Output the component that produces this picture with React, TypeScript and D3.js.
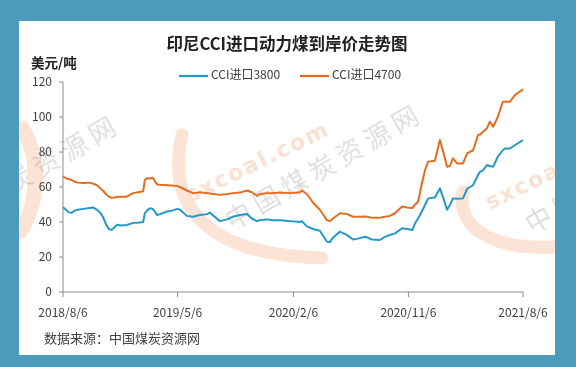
import React from 'react';
import * as d3 from 'd3';

const dates = [
  '2018-08-06', '2018-08-13', '2018-08-20', '2018-08-27', '2018-09-03', '2018-09-10', '2018-09-24',
  '2018-10-08', '2018-10-16', '2018-10-26', '2018-11-02', '2018-11-09', '2018-11-16', '2018-11-23',
  '2018-11-30', '2018-12-07', '2018-12-13', '2018-12-20', '2019-01-05', '2019-01-20', '2019-02-01',
  '2019-02-13', '2019-02-17', '2019-02-22', '2019-03-01', '2019-03-08', '2019-03-18', '2019-03-25',
  '2019-04-11', '2019-04-23', '2019-05-05', '2019-05-12', '2019-05-28', '2019-06-12', '2019-06-28',
  '2019-07-15', '2019-07-22', '2019-08-15', '2019-09-01', '2019-09-15', '2019-10-02', '2019-10-18',
  '2019-10-30', '2019-11-11', '2019-11-18', '2019-12-05', '2019-12-19', '2020-01-05', '2020-01-29',
  '2020-02-22', '2020-02-26', '2020-03-09', '2020-03-24', '2020-04-09', '2020-04-26', '2020-05-03',
  '2020-05-10', '2020-05-27', '2020-06-13', '2020-06-27', '2020-07-09', '2020-07-26', '2020-08-11',
  '2020-08-30', '2020-09-11', '2020-09-23', '2020-10-05', '2020-10-22', '2020-11-03', '2020-11-15',
  '2020-11-22', '2020-11-29', '2020-12-08', '2020-12-16', '2020-12-23', '2021-01-08', '2021-01-20',
  '2021-01-27', '2021-02-06', '2021-02-13', '2021-02-20', '2021-03-02', '2021-03-16', '2021-03-26',
  '2021-04-09', '2021-04-21', '2021-04-26', '2021-05-03', '2021-05-12', '2021-05-19', '2021-05-27',
  '2021-06-07', '2021-06-19', '2021-06-24', '2021-07-06', '2021-07-18', '2021-08-06',
];

const cci3800 = [
  48.5, 47, 45.5, 45.3, 46.5, 47, 47.5,
  48, 48.3, 47, 45.5, 43, 39, 36,
  35.5, 37, 38.5, 38, 38.3, 39.5, 39.6,
  40, 45, 46.5, 47.8, 47.5, 44, 44.5,
  46, 46.5, 47.5, 47, 43.5, 43, 44,
  44.5, 45.3, 40.5, 41.5, 43, 44, 44.6,
  42, 40.5, 41, 41.5, 41, 41, 40.5,
  40, 40.5, 37.5, 36, 35, 28.7, 28.5,
  31, 34.5, 32.5, 30, 30.5, 31.6, 30,
  29.7, 31.5, 32.6, 33.5, 36.4, 36, 35.4,
  39.4, 42, 46, 50, 53.5, 54, 59.2,
  54.5, 47, 49.7, 53.5, 53.3, 53.5, 59,
  61, 67, 68.8, 69.5, 72.6, 72, 71.6,
  77.3, 81, 82, 82, 84, 86.8,
];

const cci4700 = [
  66, 65, 64.5, 64, 63, 62.5, 62.3,
  62.5, 62, 61, 59.5, 58, 56, 54.5,
  53.8, 54, 54.5, 54.5, 54.5, 56.5, 57,
  57.5, 64, 65, 64.8, 65.3, 61.5, 61.3,
  61, 60.8, 60.5, 60, 58, 56.5, 57,
  56.5, 56.3, 55.5, 56, 56.5, 56.8, 58,
  57, 55, 56, 56.5, 56.5, 56.8, 56.5,
  57, 58, 56, 51, 47, 41, 40.5,
  42, 45, 44.5, 43, 43, 43.2, 42.5,
  42.5, 43, 43.5, 45, 48.8, 48.3, 48,
  50, 51.6, 62, 70, 74.5, 75, 86.8,
  81, 71.6, 72, 76.4, 73.5, 73.5, 79.2,
  81, 89.7, 90, 91.6, 93.5, 97.3, 94.5,
  100, 108.7, 108.7, 108.7, 112.6, 115.8,
];

const seriesNames = ['CCI进口3800', 'CCI进口4700'];
const seriesColors = ['#2399c6', '#e46c1f'];
const yTicks = [0, 20, 40, 60, 80, 100, 120];
const xTickLabels = ['2018/8/6', '2019/5/6', '2020/2/6', '2020/11/6', '2021/8/6'];

const W = 576;
const H = 367;
const FONT = '"Noto Sans CJK SC", "Noto Sans", sans-serif';

const parse = d3.timeParse('%Y-%m-%d');
const parseTick = d3.timeParse('%Y/%m/%d');

export default function App() {
  const margin = { left: 63, right: 53, top: 82, bottom: 75 };
  const x = d3
    .scaleTime()
    .domain([parse('2018-08-06') as Date, parse('2021-08-06') as Date])
    .range([margin.left, W - margin.right]);
  const y = d3.scaleLinear().domain([0, 120]).range([H - margin.bottom, margin.top]);

  const series = [cci3800, cci4700];
  const line = d3
    .line<number>()
    .x((_, i) => x(parse(dates[i]) as Date))
    .y((d) => y(d));

  const y0 = y(0);

  return (
    <svg
      width={W}
      height={H}
      style={{ position: 'absolute', left: 0, top: 0, display: 'block' }}
      fontFamily={FONT}
    >
      <defs>
        <clipPath id="panel">
          <rect x={19} y={21} width={536} height={334} />
        </clipPath>
      </defs>

      {/* frame */}
      <rect x={0} y={0} width={W} height={H} fill="#4b9bbd" />
      <rect x={19} y={21} width={536} height={334} fill="#ffffff" />

      {/* watermark */}
      <g clipPath="url(#panel)">
        <g opacity={0.3}>
          <path d="M 182 135 C 166 205, 205 255, 322 258" fill="none" stroke="#f3a877" strokeWidth={13} strokeLinecap="round" />
          <path d="M 463 192 C 456 232, 500 250, 555 247" fill="none" stroke="#f3a877" strokeWidth={13} strokeLinecap="round" />
          <path d="M 22 128 C 42 160, 38 205, 20 232" fill="none" stroke="#f3a877" strokeWidth={15} strokeLinecap="round" />
          {[[190, 203], [490, 210]].map(([tx, ty], i) => (
            <text key={'s' + i} transform={`translate(${tx},${ty}) rotate(-26)`} fontSize={22} fontWeight="bold"
              fill="#f0a070" letterSpacing={2} fontFamily='"DejaVu Sans", sans-serif'>sxcoal.com</text>
          ))}
        </g>
        <g opacity={0.25}>
          {[[240, 218], [540, 222], [-63, 229]].map(([tx, ty], i) => (
            <text key={'c' + i} transform={`translate(${tx},${ty}) rotate(-30)`} fontSize={26} fill="#777"
              dominantBaseline="middle" textAnchor="start" dx={-13} letterSpacing={6}>中国煤炭资源网</text>
          ))}
        </g>
      </g>

      {/* title */}
      <text x={287} y={46} textAnchor="middle" dominantBaseline="middle" fontSize={16.5} fontWeight="bold" fill="#222">
        印尼CCI进口动力煤到岸价走势图
      </text>
      <text x={31} y={64} dominantBaseline="middle" fontSize={13.5} fontWeight="bold" fill="#222">美元/吨</text>

      {/* legend */}
      {seriesNames.map((name, i) => {
        const lx = i === 0 ? 179 : 300;
        return (
          <g key={name}>
            <line x1={lx} x2={lx + 29} y1={76} y2={76} stroke={seriesColors[i]} strokeWidth={2.2} />
            <text x={lx + 32} y={76} dominantBaseline="middle" fontSize={12} fill="#404040">{name}</text>
          </g>
        );
      })}

      {/* axes */}
      <line x1={margin.left} x2={margin.left} y1={y(120)} y2={y0} stroke="#8c8c8c" />
      {yTicks.map((t) => (
        <g key={t}>
          <line x1={margin.left - 4} x2={margin.left} y1={y(t)} y2={y(t)} stroke="#8c8c8c" />
          <text x={margin.left - 11} y={y(t) + 1} textAnchor="end" dominantBaseline="middle" fontSize={12} fill="#404040">
            {t}
          </text>
        </g>
      ))}
      <line x1={margin.left} x2={W - margin.right} y1={y0} y2={y0} stroke="#8c8c8c" />
      {xTickLabels.map((t) => {
        const px = x(parseTick(t) as Date);
        return (
          <g key={t}>
            <line x1={px} x2={px} y1={y0} y2={y0 + 5} stroke="#8c8c8c" />
            <text x={px} y={y0 + 22} textAnchor="middle" dominantBaseline="middle" fontSize={12} fill="#404040">
              {t}
            </text>
          </g>
        );
      })}

      {/* lines */}
      {series.map((s, i) => (
        <path key={i} d={line(s) || ''} fill="none" stroke={seriesColors[i]} strokeWidth={2} strokeLinejoin="round" />
      ))}

      <text x={44} y={339} dominantBaseline="middle" fontSize={13} fill="#404040">数据来源：中国煤炭资源网</text>
    </svg>
  );
}
